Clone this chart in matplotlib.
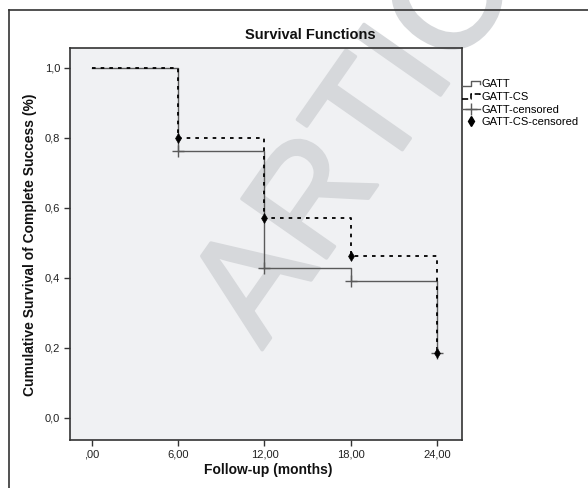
import matplotlib
matplotlib.use("Agg")
import matplotlib.pyplot as plt
import matplotlib.patheffects as pe
from matplotlib.lines import Line2D
from matplotlib.legend_handler import HandlerBase

plt.rcParams['font.family'] = ['Liberation Sans', 'DejaVu Sans']

# Data
times = [0, 6, 12, 18, 24]
gatt_surv = [1.0, 0.762, 0.429, 0.390, 0.186]
gattcs_surv = [1.0, 0.800, 0.571, 0.464, 0.186]
x_ticks = [0, 6, 12, 18, 24]
x_ticklabels = [",00", "6,00", "12,00", "18,00", "24,00"]
y_ticks = [0.0, 0.2, 0.4, 0.6, 0.8, 1.0]
y_ticklabels = ["0,0", "0,2", "0,4", "0,6", "0,8", "1,0"]
legend_labels = ["GATT", "GATT-CS", "GATT-censored", "GATT-CS-censored"]

W, H = 588, 488
fig = plt.figure(figsize=(W / 100, H / 100), dpi=100)
fig.patch.set_facecolor('white')

ax = fig.add_axes([70 / W, 1 - 440 / H, (462 - 70) / W, (440 - 48) / H])
ax.set_facecolor('#F0F1F3')

solid_c = '#5a5a5a'
ax.step(times, gatt_surv, where='post', color=solid_c, lw=1.0, zorder=3)
ax.step(times, gattcs_surv, where='post', color='black', lw=1.3,
        linestyle=(0, (2, 2.8)), zorder=4)
ax.plot(times[1:], gatt_surv[1:], linestyle='none', marker='+', ms=8,
        mew=1.0, color=solid_c, zorder=5)
ax.plot(times[1:], gattcs_surv[1:], linestyle='none', marker='d', ms=5,
        mew=0.4, color='black', zorder=6)

ax.set_xlim(-1.53, 25.74)
ax.set_ylim(-0.063, 1.057)
ax.set_xticks(x_ticks)
ax.set_xticklabels(x_ticklabels)
ax.set_yticks(y_ticks)
ax.set_yticklabels(y_ticklabels)
ax.tick_params(direction='out', length=4, width=1.0, color='#333333',
               labelsize=8, labelcolor='#222222', pad=3)
for s in ax.spines.values():
    s.set_color('#333333')
    s.set_linewidth(1.2)

# Watermark
wm_color = '#D6D8DB'
ax.text(262 / W, 1 - 350 / H, "ARTICLE", transform=fig.transFigure,
        rotation=55, rotation_mode='anchor', ha='left', va='baseline',
        fontsize=108, color=wm_color, clip_on=False, zorder=1,
        path_effects=[pe.withStroke(linewidth=2.5, foreground=wm_color)])

fig.text(310 / W, 1 - 35 / H, "Survival Functions", ha='center', va='center',
         fontsize=10.5, fontweight='bold', color='#111111')
fig.text(268 / W, 1 - 470 / H, "Follow-up (months)", ha='center', va='center',
         fontsize=10, fontweight='bold', color='#111111')
fig.text(30 / W, 1 - 245 / H, "Cumulative Survival of Complete Success (%)",
         ha='center', va='center', rotation=90, fontsize=10,
         fontweight='bold', color='#111111')

# outer frame
fig.add_artist(Line2D([9 / W, 9 / W], [0, 1 - 10 / H], transform=fig.transFigure,
                      color='#333333', lw=1.2))
fig.add_artist(Line2D([9 / W, 1], [1 - 10 / H, 1 - 10 / H], transform=fig.transFigure,
                      color='#333333', lw=1.2))


class StepHandler(HandlerBase):
    def create_artists(self, legend, orig_handle, xdescent, ydescent, width,
                       height, fontsize, trans):
        xs = [0, 0.5 * width, 0.5 * width, width, width]
        ys = [0.1 * height, 0.1 * height, 0.8 * height, 0.8 * height, 0.45 * height]
        line = Line2D([x - xdescent for x in xs], [y - ydescent for y in ys],
                      color=orig_handle.get_color(),
                      linestyle=orig_handle.get_linestyle(),
                      linewidth=orig_handle.get_linewidth(), transform=trans)
        return [line]


h1 = Line2D([], [], color=solid_c, lw=1.0)
h2 = Line2D([], [], color='black', lw=1.2, linestyle=(0, (1.5, 2.5)))
h3 = Line2D([0], [0], color=solid_c, lw=1.0, marker='+', ms=9, mew=1.0)
h4 = Line2D([0], [0], color='black', linestyle='none', marker='d', ms=5)
fig.legend([h1, h2, h3, h4], legend_labels, loc='upper left',
           bbox_to_anchor=(462 / W, 1 - 79 / H), frameon=False, fontsize=8,
           handlelength=1.6, handletextpad=0.15, labelspacing=0.25,
           borderpad=0, borderaxespad=0,
           handler_map={h1: StepHandler(), h2: StepHandler()})

fig.savefig("out.png", dpi=100)
